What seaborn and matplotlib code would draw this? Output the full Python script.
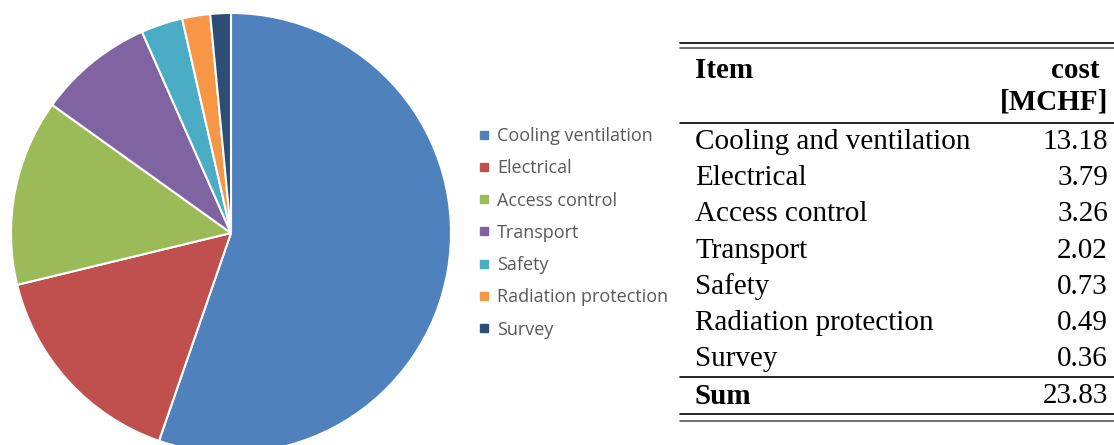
import numpy as np
import matplotlib.pyplot as plt
from matplotlib.lines import Line2D
import seaborn as sns

# 데이터
items = ["Cooling and ventilation", "Electrical", "Access control", "Transport",
         "Safety", "Radiation protection", "Survey"]
legend_names = ["Cooling ventilation", "Electrical", "Access control", "Transport",
                "Safety", "Radiation protection", "Survey"]
costs = [13.18, 3.79, 3.26, 2.02, 0.73, 0.49, 0.36]
total = 23.83
colors = sns.color_palette(["#4F81BD", "#C0504D", "#9BBB59", "#8064A2",
                            "#4BACC6", "#F79646", "#2C4D75"])

sns.set_theme(style="white")
plt.rcParams["text.color"] = "black"
W, H = 1114, 445
fig = plt.figure(figsize=(W / 100, H / 100), dpi=100)

# 파이 차트
cx, cy, r = 231, 233, 220
ax = fig.add_axes([(cx - r) / W, (H - cy - r) / H, 2 * r / W, 2 * r / H])
wedges, _ = ax.pie(costs, colors=colors, startangle=90, counterclock=False,
                   radius=1, wedgeprops=dict(edgecolor="white", linewidth=1.5))
ax.set_xlim(-1, 1)
ax.set_ylim(-1, 1)
ax.set_aspect("equal")
ax.axis("off")

# 범례
handles = [Line2D([], [], marker="s", linestyle="", markersize=6,
                  markerfacecolor=c, markeredgecolor=c) for c in colors]
fig.legend(handles, legend_names, loc="upper left",
           bbox_to_anchor=(479 / W, 1 - 127 / H), frameon=False,
           prop={"family": "Open Sans", "size": 13}, labelcolor="#595959",
           handlelength=0.6, handletextpad=0.4, labelspacing=0.79,
           borderpad=0, borderaxespad=0)

# 표
tx = fig.add_axes([0, 0, 1, 1])
tx.set_xlim(0, W)
tx.set_ylim(H, 0)
tx.axis("off")
x0, x1 = 680, 1114
left, right = 695, 1108
serif = "Liberation Serif"
fs = 21

tx.plot([x0, x1], [43, 43], color="black", lw=1.2)
tx.plot([x0, x1], [48, 48], color="#555555", lw=1.2)
tx.text(left, 70, "Item", fontsize=fs, family=serif, weight="bold", va="center")
tx.text(1100, 70, "cost", fontsize=fs, family=serif, weight="bold", va="center", ha="right")
tx.text(right, 102, "[MCHF]", fontsize=fs, family=serif, weight="bold", va="center", ha="right")
tx.plot([x0, x1], [123, 123], color="black", lw=1.2)

row0, step = 142, 36.2
for i, (name, val) in enumerate(zip(items, costs)):
    y = row0 + i * step
    tx.text(left, y, name, fontsize=fs, family=serif, va="center")
    tx.text(right, y, f"{val:.2f}", fontsize=fs, family=serif, va="center", ha="right")

tx.plot([x0, x1], [377, 377], color="black", lw=1.2)
tx.text(left, 396, "Sum", fontsize=fs, family=serif, weight="bold", va="center")
tx.text(right, 396, f"{total:.2f}", fontsize=fs, family=serif, va="center", ha="right")
tx.plot([x0, x1], [414, 414], color="black", lw=1.2)
tx.plot([x0, x1], [421, 421], color="#555555", lw=1.2)

fig.savefig("out.png", dpi=100)
